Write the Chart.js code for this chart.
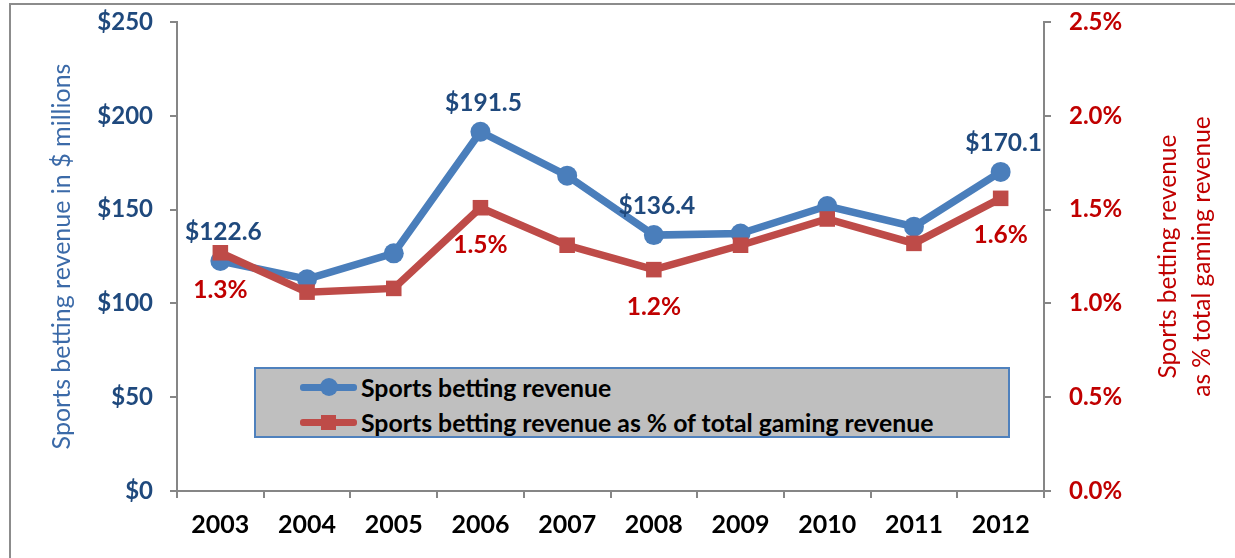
<!DOCTYPE html>
<html>
<head>
<meta charset="utf-8">
<script src="https://cdn.jsdelivr.net/npm/chart.js@4"></script>
<style>
    html, body { margin: 0; padding: 0; background: #fff; }
    #wrap { position: relative; width: 1235px; height: 558px; overflow: hidden; }
    #frame {
        position: absolute; left: 9px; top: 3px; width: 1300px; height: 600px;
        border: 2px solid #8c8c8c; box-sizing: border-box;
    }
    #chart { position: absolute; left: 0; top: 0; }
    #legend {
        position: absolute; left: 254px; top: 367px; width: 756px; height: 71px;
        box-sizing: border-box; background: #bfbfbf; border: 2px solid #4f81bd;
        font-family: Lato, 'Open Sans', sans-serif; font-weight: bold; font-size: 24.8px; color: #000;
    }
    .row { position: absolute; left: 44px; height: 30px; display: flex; align-items: center; }
    .swatch { position: relative; width: 57px; height: 30px; margin-right: 4px; }
    .swatch .ln { position: absolute; left: 0; top: 12px; width: 57px; height: 7px; border-radius: 3px; }
    .swatch .mk { position: absolute; }
</style>
</head>
<body>
<div id="wrap">
    <div id="frame"></div>
    <canvas id="chart" width="1235" height="558"></canvas>
    <div id="legend"></div>
</div>
<script>
// === DỮ LIỆU ===
const years = ['2003', '2004', '2005', '2006', '2007', '2008', '2009', '2010', '2011', '2012'];
const revenue = [122.6, 112.9, 126.7, 191.5, 168.1, 136.4, 137.2, 151.9, 140.9, 170.1];
const sharePct = [1.27, 1.06, 1.08, 1.51, 1.31, 1.18, 1.31, 1.45, 1.32, 1.56];
const labelledIdx = [0, 3, 5, 9];
const revenueTicks = [0, 50, 100, 150, 200, 250];
const shareTicks = [0, 0.5, 1.0, 1.5, 2.0, 2.5];

const seriesNames = ['Sports betting revenue', 'Sports betting revenue as % of total gaming revenue'];
const leftTitle = 'Sports betting revenue in $ millions';
const rightTitle = ['Sports betting revenue', 'as % total gaming revenue'];

const FONT = "Lato, 'Open Sans', sans-serif";
const BLUE = '#4a7ebb';
const RED = '#be4b48';
const BLUE_TXT = '#1f497d';
const RED_TXT = '#c00000';
const AXIS = '#868686';

// Nhãn dữ liệu vẽ trên các điểm được chọn
const dataLabels = {
    id: 'dataLabels',
    afterDatasetsDraw(chart) {
        const ctx = chart.ctx;
        ctx.save();
        ctx.font = `bold 24.5px ${FONT}`;
        ctx.textAlign = 'center';
        ctx.textBaseline = 'middle';
        const blueMeta = chart.getDatasetMeta(0);
        const redMeta = chart.getDatasetMeta(1);
        labelledIdx.forEach(i => {
            const b = blueMeta.data[i];
            ctx.fillStyle = BLUE_TXT;
            ctx.fillText('$' + revenue[i].toFixed(1), b.x + 3, b.y - 29);
            const r = redMeta.data[i];
            ctx.fillStyle = RED_TXT;
            ctx.fillText(sharePct[i].toFixed(1) + '%', r.x, r.y + 37);
        });
        ctx.restore();
    }
};

// Tiêu đề trục phải, đọc từ dưới lên như trục trái
const rightAxisTitle = {
    id: 'rightAxisTitle',
    afterDraw(chart) {
        const ctx = chart.ctx;
        const area = chart.chartArea;
        const cy = (area.top + area.bottom) / 2;
        ctx.save();
        ctx.font = `24.5px ${FONT}`;
        ctx.fillStyle = RED_TXT;
        ctx.textAlign = 'center';
        ctx.textBaseline = 'middle';
        [1168, 1202].forEach((x, k) => {
            ctx.save();
            ctx.translate(x, cy);
            ctx.rotate(-Math.PI / 2);
            ctx.fillText(rightTitle[k], 0, 0);
            ctx.restore();
        });
        ctx.restore();
    }
};

// Giữ khung vùng vẽ cố định, bỏ phần đệm do nhãn trục thêm vào
const fitY = (width) => (scale) => {
    scale.width = width;
    scale.paddingTop = 0;
    scale.paddingBottom = 0;
};

const ctx = document.getElementById('chart').getContext('2d');
new Chart(ctx, {
    type: 'line',
    data: {
        labels: years,
        datasets: [{
            label: seriesNames[0],
            data: revenue,
            yAxisID: 'y',
            borderColor: BLUE,
            backgroundColor: BLUE,
            borderWidth: 7.5,
            pointStyle: 'circle',
            pointRadius: 10,
            pointBorderWidth: 0,
            order: 1
        }, {
            label: seriesNames[1],
            data: sharePct,
            yAxisID: 'y1',
            borderColor: RED,
            backgroundColor: RED,
            borderWidth: 7.5,
            pointStyle: 'rect',
            pointRadius: 11,
            pointBorderWidth: 0,
            order: 0
        }]
    },
    options: {
        responsive: false,
        animation: false,
        layout: { padding: { top: 22, left: 0, right: 0, bottom: 0 } },
        plugins: {
            legend: { display: false },
            tooltip: { enabled: false }
        },
        scales: {
            x: {
                offset: true,
                grid: { offset: true, drawOnChartArea: false, tickLength: 7, color: AXIS, lineWidth: 2 },
                border: { color: AXIS, width: 2 },
                ticks: { color: '#000', padding: 12, font: { family: FONT, size: 25, weight: 'bold' } },
                afterFit: (scale) => { scale.height = 67; }
            },
            y: {
                position: 'left',
                min: 0,
                max: 250,
                afterBuildTicks: (scale) => { scale.ticks = revenueTicks.map(v => ({ value: v })); },
                grid: { drawOnChartArea: false, tickLength: 7, color: AXIS, lineWidth: 2 },
                border: { color: AXIS, width: 2 },
                ticks: {
                    color: BLUE_TXT, padding: 17,
                    font: { family: FONT, size: 24, weight: 'bold' },
                    callback: (v) => '$' + v
                },
                title: {
                    display: true, text: leftTitle, color: '#3b6aa8',
                    font: { family: FONT, size: 25 },
                    padding: { top: 47, bottom: 0 }
                },
                afterFit: fitY(177)
            },
            y1: {
                position: 'right',
                min: 0,
                max: 2.5,
                afterBuildTicks: (scale) => { scale.ticks = shareTicks.map(v => ({ value: v })); },
                grid: { drawOnChartArea: false, tickLength: 7, color: AXIS, lineWidth: 2 },
                border: { color: AXIS, width: 2 },
                ticks: {
                    color: RED_TXT, padding: 18,
                    font: { family: FONT, size: 24, weight: 'bold' },
                    callback: (v) => v.toFixed(1) + '%'
                },
                afterFit: fitY(191)
            }
        }
    },
    plugins: [dataLabels, rightAxisTitle]
});

// === CHÚ THÍCH ===
const legendEl = document.getElementById('legend');
const legendRows = [
    { name: seriesNames[0], color: BLUE, marker: 'width:18px;height:18px;left:20px;top:6px;border-radius:50%;' },
    { name: seriesNames[1], color: RED, marker: 'width:15px;height:15px;left:21px;top:8px;' }
];
legendRows.forEach((item, k) => {
    const row = `
        <div class="row" style="top:${k === 0 ? 3 : 38}px">
            <div class="swatch">
                <div class="ln" style="background:${item.color}"></div>
                <div class="mk" style="background:${item.color};${item.marker}"></div>
            </div>
            <span>${item.name}</span>
        </div>
    `;
    legendEl.insertAdjacentHTML('beforeend', row);
});
</script>
</body>
</html>
